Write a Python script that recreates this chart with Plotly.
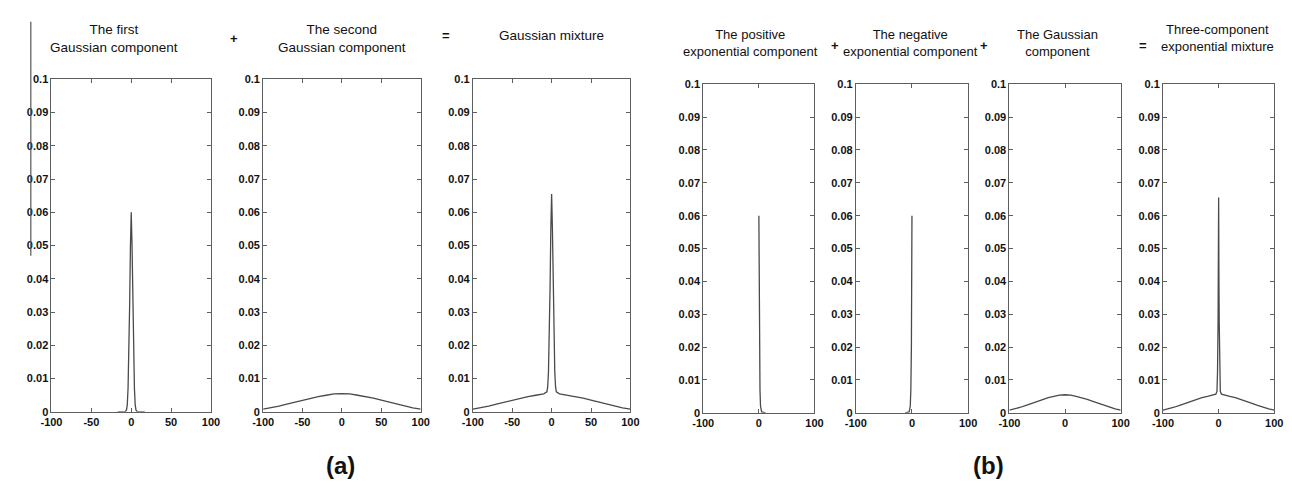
import plotly.graph_objects as go

W, H = 1292, 483

# ---------------- data ----------------
# (a) first (narrow) Gaussian component
g1_x = [-17, -8, -6, -5, -4, -3, -2, -1, 0, 1, 2, 3, 4, 5, 6, 8, 17]
g1_y = [0, 0, 0.0005, 0.002, 0.007, 0.017, 0.032, 0.050, 0.060,
        0.050, 0.032, 0.017, 0.007, 0.002, 0.0005, 0, 0]

# broad Gaussian component (used in (a) and (b))
g2_x = [-100, -90, -80, -70, -60, -50, -40, -30, -20, -10, 0,
        10, 20, 30, 40, 50, 60, 70, 80, 90, 100]
g2_y = [0.0008, 0.0012, 0.0017, 0.0023, 0.0029, 0.0035, 0.0041, 0.0046, 0.0050, 0.0054, 0.0055,
        0.0054, 0.0050, 0.0046, 0.0041, 0.0035, 0.0029, 0.0023, 0.0017, 0.0012, 0.0008]

# (a) Gaussian mixture
gm_x = [-100, -90, -80, -70, -60, -50, -40, -30, -20, -10, -6, -5, -4, -3, -2, -1, 0,
        1, 2, 3, 4, 5, 6, 10, 20, 30, 40, 50, 60, 70, 80, 90, 100]
gm_y = [0.0008, 0.0012, 0.0017, 0.0023, 0.0029, 0.0035, 0.0041, 0.0046, 0.0050, 0.0054,
        0.0060, 0.0075, 0.012, 0.022, 0.037, 0.055, 0.0655,
        0.055, 0.037, 0.022, 0.012, 0.0075, 0.0060,
        0.0054, 0.0050, 0.0046, 0.0041, 0.0035, 0.0029, 0.0023, 0.0017, 0.0012, 0.0008]

# (b) positive exponential component
pe_x = [0, 0.5, 1, 2, 3, 5, 12]
pe_y = [0.060, 0.035, 0.020, 0.007, 0.002, 0.0003, 0]

# (b) negative exponential component
ne_x = [-12, -5, -3, -2, -1, -0.5, 0]
ne_y = [0, 0.0003, 0.002, 0.007, 0.020, 0.035, 0.060]

# (b) three-component exponential mixture
em_x = [-100, -90, -80, -70, -60, -50, -40, -30, -20, -10, -5, -3, -2, -1, -0.5, 0,
        0.5, 1, 2, 3, 5, 10, 20, 30, 40, 50, 60, 70, 80, 90, 100]
em_y = [0.0008, 0.0012, 0.0017, 0.0023, 0.0029, 0.0035, 0.0041, 0.0046, 0.0050, 0.0054,
        0.0057, 0.0065, 0.0125, 0.028, 0.042, 0.0655,
        0.042, 0.028, 0.0125, 0.0065, 0.0057, 0.0054, 0.0050, 0.0046, 0.0041, 0.0035,
        0.0029, 0.0023, 0.0017, 0.0012, 0.0008]

y_ticks = [0, 0.01, 0.02, 0.03, 0.04, 0.05, 0.06, 0.07, 0.08, 0.09, 0.1]
y_labels = ["0", "0.01", "0.02", "0.03", "0.04", "0.05", "0.06", "0.07", "0.08", "0.09", "0.1"]
xa_ticks = [-100, -50, 0, 50, 100]
xb_ticks = [-100, 0, 100]

titles = [
    "The first<br>Gaussian component",
    "The second<br>Gaussian component",
    "Gaussian mixture",
    "The positive<br>exponential component",
    "The negative<br>exponential component",
    "The Gaussian<br>component",
    "Three-component<br>exponential mixture",
]
operators = ["+", "=", "+", "+", "="]
panel_labels = ["(a)", "(b)"]

# ---------------- layout geometry (pixels) ----------------
panels_px = [(33, 195), (248, 408), (461, 621),
             (695, 808), (850, 964), (1006, 1119), (1162, 1275)]
ytop_a, ybot_a = 67, 408
ytop_b, ybot_b = 72, 409

series = [(g1_x, g1_y), (g2_x, g2_y), (gm_x, gm_y),
          (pe_x, pe_y), (ne_x, ne_y), (g2_x, g2_y), (em_x, em_y)]

fig = go.Figure()
axis_col = "#5e5e5e"
line_col = "#4a4a4a"
tickfont = dict(family="Liberation Sans, Arial, sans-serif", size=11, color="#111")

layout = {}
for i, ((x0, x1), (sx, sy)) in enumerate(zip(panels_px, series)):
    n = i + 1
    suffix = "" if n == 1 else str(n)
    is_a = i < 3
    ytop, ybot = (ytop_a, ybot_a) if is_a else (ytop_b, ybot_b)
    xt = xa_ticks if is_a else xb_ticks
    fig.add_trace(go.Scatter(x=sx, y=sy, mode="lines",
                             line=dict(color=line_col, width=1.3),
                             xaxis="x" + suffix, yaxis="y" + suffix,
                             showlegend=False, hoverinfo="skip"))
    layout["xaxis" + suffix] = dict(
        domain=[x0 / W, x1 / W], anchor="y" + suffix, range=[-100, 100],
        tickmode="array", tickvals=xt,
        ticktext=["<b>" + str(v) + "</b>" for v in xt],
        ticks="inside", ticklen=4, tickcolor=axis_col, tickwidth=1,
        showline=True, linecolor=axis_col, linewidth=1, mirror="ticks",
        showgrid=False, zeroline=False, tickfont=tickfont,
        fixedrange=True,
    )
    layout["yaxis" + suffix] = dict(
        domain=[1 - ybot / H, 1 - ytop / H], anchor="x" + suffix, range=[0, 0.1],
        tickmode="array", tickvals=y_ticks,
        ticktext=["<b>" + s + "</b>" for s in y_labels],
        ticks="inside", ticklen=4, tickcolor=axis_col, tickwidth=1,
        showline=True, linecolor=axis_col, linewidth=1, mirror="ticks",
        showgrid=False, zeroline=False, tickfont=tickfont,
        fixedrange=True,
    )

fig.update_layout(**layout)

ann = []
font_a = dict(family="Liberation Sans, Arial, sans-serif", size=13.5, color="#111")
font_b = dict(family="Liberation Sans, Arial, sans-serif", size=13, color="#111")
title_pos = [(97, 25), (328, 25), (541, 22), (743, 30), (906, 30), (1055, 30), (1217, 25)]
for i, (t, (px, py)) in enumerate(zip(titles, title_pos)):
    ann.append(dict(text=t, x=px / W, y=1 - py / H, xref="paper", yref="paper",
                    xanchor="center", yanchor="middle", showarrow=False,
                    font=font_a if i < 3 else font_b))
op_pos = [(218, 25), (434, 22), (829, 32), (980, 32), (1142, 32)]
for o, (px, py) in zip(operators, op_pos):
    ann.append(dict(text="<b>" + o + "</b>", x=px / W, y=1 - py / H, xref="paper", yref="paper",
                    xanchor="center", yanchor="middle", showarrow=False, font=font_b))
lab_pos = [(327, 463), (985, 463)]
for l, (px, py) in zip(panel_labels, lab_pos):
    ann.append(dict(text="<b>" + l + "</b>", x=px / W, y=1 - py / H, xref="paper", yref="paper",
                    xanchor="center", yanchor="middle", showarrow=False,
                    font=dict(family="Liberation Sans, Arial, sans-serif", size=24, color="#111")))

shapes = [dict(type="line", xref="paper", yref="paper",
               x0=12 / W, x1=12 / W, y0=1 - 8 / H, y1=1 - 248 / H,
               line=dict(color="#555", width=1.2))]

fig.update_layout(
    width=W, height=H,
    margin=dict(l=0, r=0, t=0, b=0),
    paper_bgcolor="white", plot_bgcolor="white",
    annotations=ann, shapes=shapes,
    showlegend=False,
)

fig.write_html("out.html")
